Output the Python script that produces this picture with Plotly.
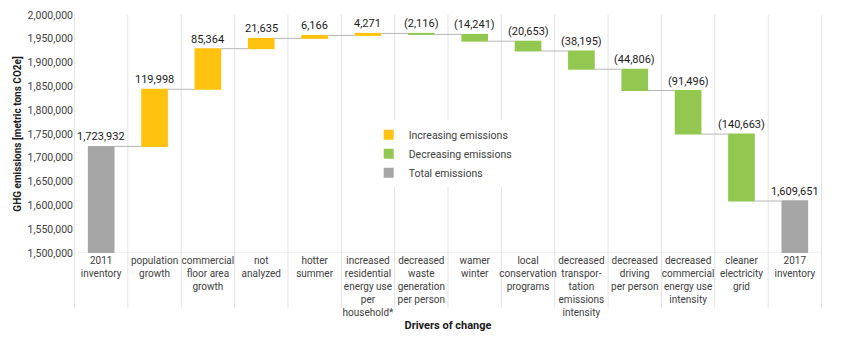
import plotly.graph_objects as go

# Drivers of change in GHG emissions, 2011 -> 2017
categories = ["2011<br>inventory", "population<br>growth", "commercial<br>floor area<br>growth",
              "not<br>analyzed", "hotter<br>summer",
              "increased<br>residential<br>energy use<br>per<br>household*",
              "decreased<br>waste<br>generation<br>per person", "wamer<br>winter",
              "local<br>conservation<br>programs",
              "decreased<br>transpor-<br>tation<br>emissions<br>intensity",
              "decreased<br>driving<br>per person",
              "decreased<br>commercial<br>energy use<br>intensity",
              "cleaner<br>electricity<br>grid", "2017<br>inventory"]
values = [1723932, 119998, 85364, 21635, 6166, 4271, -2116, -14241, -20653,
          -38195, -44806, -91496, -140663, 1609651]
measures = ["absolute"] + ["relative"] * 12 + ["absolute"]

YELLOW = "#FFC20E"
GREEN = "#92C84F"
GREY = "#A6A6A6"
FONT = "Liberation Sans Narrow, Roboto, Arial Narrow, sans-serif"

fig = go.Figure()
fig.add_trace(go.Waterfall(
    x=categories, y=values, measure=measures, width=0.5,
    increasing=dict(marker=dict(color=YELLOW)),
    decreasing=dict(marker=dict(color=GREEN)),
    totals=dict(marker=dict(color=GREY)),
    connector=dict(line=dict(color="#B5B5B5", width=1)),
    showlegend=False, hoverinfo="x+y"))

# legend entries
for name, col in [("Increasing emissions", YELLOW), ("Decreasing emissions", GREEN),
                  ("Total emissions", GREY)]:
    fig.add_trace(go.Scatter(x=[None], y=[None], mode="markers", name=name,
                             marker=dict(symbol="square", size=10, color=col)))

# value labels above each bar
level = 0
annotations = []
for cat, v, m in zip(categories, values, measures):
    if m == "absolute":
        top = v
        level = v
        txt = f"{v:,}"
    else:
        top = max(level, level + v)
        level += v
        txt = f"{v:,}" if v >= 0 else f"({-v:,})"
    annotations.append(dict(x=cat, y=top, text=txt, showarrow=False, yanchor="bottom",
                            yshift=1, font=dict(size=11, color="#1a1a1a", family=FONT)))

# category boundary lines, running down into the label area
shapes = []
for i in range(len(categories) + 1):
    shapes.append(dict(type="line", xref="x", yref="paper", x0=i - 0.5, x1=i - 0.5,
                       y0=-0.23, y1=1, layer="below", line=dict(color="#E3E3E3", width=1)))
shapes.append(dict(type="line", xref="paper", yref="y", x0=0, x1=1, y0=1500000, y1=1500000,
                   layer="below", line=dict(color="#E3E3E3", width=1)))

# page body has an 8px margin, so the figure is a bit smaller than the window
fig.update_layout(
    width=840, height=330,
    margin=dict(l=66, r=26, t=7, b=85),
    plot_bgcolor="white", paper_bgcolor="white",
    font=dict(family=FONT, size=11, color="#404040"),
    annotations=annotations, shapes=shapes,
    legend=dict(x=0.394, y=0.558, xanchor="left", yanchor="top", bgcolor="white",
                font=dict(size=10.5, color="#404040"), tracegroupgap=0,
                itemwidth=30),
    xaxis=dict(showgrid=False, showline=False, ticks="", tickangle=0, automargin=False,
               tickfont=dict(size=10, color="#404040"),
               title=dict(text="<b>Drivers of change</b>", standoff=4,
                          font=dict(size=11, color="#1a1a1a"))),
    yaxis=dict(range=[1500000, 2000000], dtick=50000, tickformat=",d", showgrid=False,
               showline=False, zeroline=False, ticks="", automargin=False,
               tickfont=dict(size=10.5),
               title=dict(text="<b>GHG emissions [metric tons CO2e]</b>", standoff=4,
                          font=dict(size=10, color="#1a1a1a"))),
)

fig.write_html("out.html")
